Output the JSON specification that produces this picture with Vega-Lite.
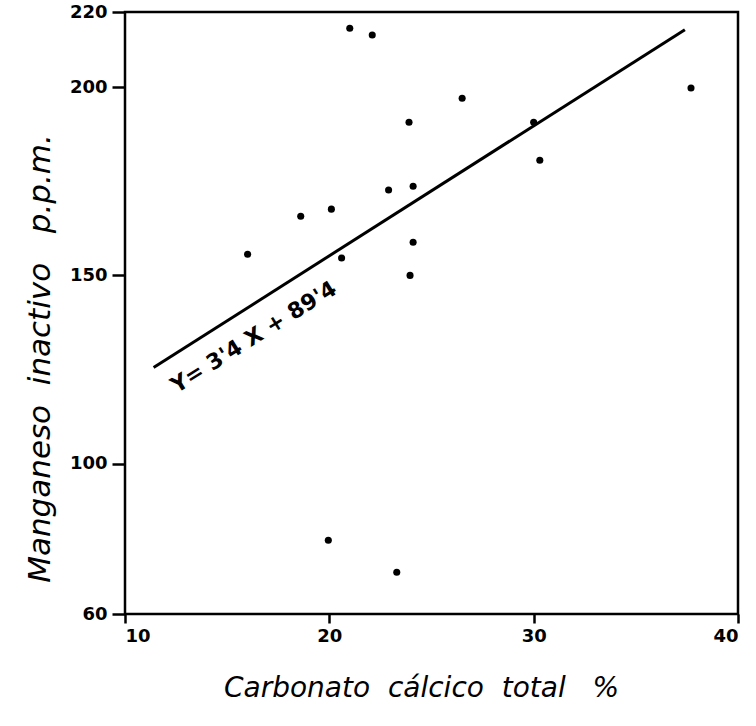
{
  "$schema": "https://vega.github.io/schema/vega-lite/v6.json",
  "width": 613,
  "height": 602,
  "autosize": {"type": "none"},
  "padding": {"left": 125, "top": 12, "right": 18, "bottom": 112},
  "background": "white",
  "config": {
    "view": {"stroke": "black", "strokeWidth": 2.5},
    "axis": {
      "domain": false,
      "grid": false,
      "ticks": true,
      "tickColor": "black",
      "tickWidth": 2.5,
      "labelFont": "DejaVu Sans",
      "labelFontWeight": "bold",
      "labelFontSize": 18,
      "labelColor": "black",
      "titleFont": "DejaVu Sans",
      "titleFontStyle": "italic",
      "titleFontWeight": "normal",
      "titleColor": "black"
    }
  },
  "datasets": {
    "points": [
      {"carbonato": 21.0, "manganeso": 215.7},
      {"carbonato": 22.1, "manganeso": 213.9},
      {"carbonato": 23.9, "manganeso": 190.7},
      {"carbonato": 30.0, "manganeso": 190.7},
      {"carbonato": 30.3, "manganeso": 180.6},
      {"carbonato": 26.5, "manganeso": 197.1},
      {"carbonato": 37.7, "manganeso": 199.8},
      {"carbonato": 24.1, "manganeso": 173.7},
      {"carbonato": 22.9, "manganeso": 172.7},
      {"carbonato": 20.1, "manganeso": 167.6},
      {"carbonato": 18.6, "manganeso": 165.7},
      {"carbonato": 16.0, "manganeso": 155.6},
      {"carbonato": 20.6, "manganeso": 154.6},
      {"carbonato": 24.1, "manganeso": 158.8},
      {"carbonato": 23.95, "manganeso": 150.0},
      {"carbonato": 19.95, "manganeso": 79.6},
      {"carbonato": 23.3, "manganeso": 71.1}
    ],
    "fit": [
      {"carbonato": 11.4, "manganeso": 125.5},
      {"carbonato": 37.4, "manganeso": 215.3}
    ],
    "label": [
      {"carbonato": 16.3, "manganeso": 133.6, "text": "Y= 3'4 X + 89'4"}
    ]
  },
  "layer": [
    {
      "data": {"name": "points"},
      "mark": {"type": "circle", "color": "black", "opacity": 1, "size": 50},
      "encoding": {
        "x": {
          "field": "carbonato", "type": "quantitative",
          "scale": {"domain": [10, 40], "nice": false, "zero": false},
          "axis": {
            "values": [10, 20, 30, 40],
            "tickSize": 9,
            "labelPadding": 4,
            "title": "Carbonato\u00a0 cálcico\u00a0 total\u00a0\u00a0 %",
            "titleFontSize": 28,
            "titleX": 296,
            "titleY": 74,
            "titleAlign": "center",
            "titleBaseline": "middle"
          }
        },
        "y": {
          "field": "manganeso", "type": "quantitative",
          "scale": {"domain": [60, 220], "nice": false, "zero": false},
          "axis": {
            "values": [60, 100, 150, 200, 220],
            "tickSize": 13,
            "labelPadding": 5,
            "title": "Manganeso\u00a0 inactivo\u00a0\u00a0 p.p.m.",
            "titleFontSize": 31,
            "titleAngle": -90,
            "titleX": -85,
            "titleY": 346,
            "titleAlign": "center",
            "titleBaseline": "middle"
          }
        }
      }
    },
    {
      "data": {"name": "fit"},
      "mark": {"type": "line", "color": "black", "strokeWidth": 3},
      "encoding": {
        "x": {"field": "carbonato", "type": "quantitative"},
        "y": {"field": "manganeso", "type": "quantitative"}
      }
    },
    {
      "data": {"name": "label"},
      "mark": {"type": "text", "angle": -32, "font": "DejaVu Sans", "fontWeight": "bold", "fontSize": 22, "color": "black", "align": "center", "baseline": "middle"},
      "encoding": {
        "x": {"field": "carbonato", "type": "quantitative"},
        "y": {"field": "manganeso", "type": "quantitative"},
        "text": {"field": "text"}
      }
    }
  ]
}
